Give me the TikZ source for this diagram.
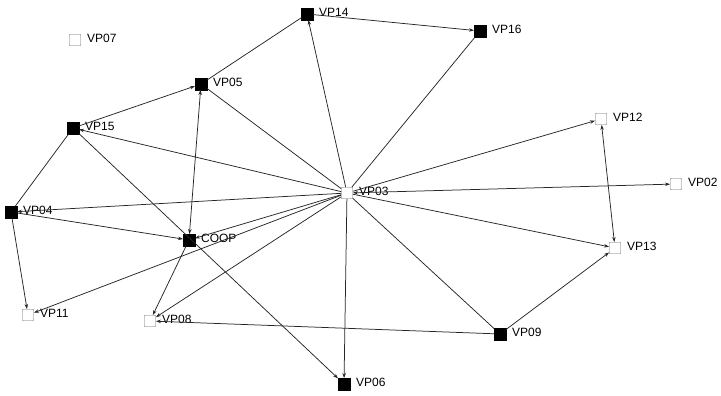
\documentclass[tikz,border=0pt]{standalone}
\usepackage{fontspec}
\setmainfont{Liberation Sans}
\usetikzlibrary{arrows.meta}
\begin{document}
\begin{tikzpicture}[x=1pt,y=-1pt,
  vtx/.style={rectangle,minimum size=11.5pt,inner sep=0pt},
  bk/.style={vtx,fill=black,draw=black},
  wh/.style={vtx,fill=white,draw=black!60,rounded corners=0.8pt},
  lab/.style={label={[font=\fontsize{12pt}{13pt}\selectfont,inner sep=0pt,anchor=west,xshift=6pt,yshift=2pt]east:#1}},
  ed/.style={draw=black!85,line width=0.75pt},
  ar/.style={ed,-{Stealth[length=5pt,width=3.5pt]}},
  br/.style={ed,{Stealth[length=5pt,width=3.5pt]}-{Stealth[length=5pt,width=3.5pt]}}]
\useasboundingbox (0,0) rectangle (721,396);
\node[wh,lab=VP07] (vp07) at (75,40) {};
\node[bk,lab=VP14] (vp14) at (307,14) {};
\node[bk,lab=VP16] (vp16) at (480,31) {};
\node[bk,lab=VP05] (vp05) at (201,84) {};
\node[bk,lab=VP15] (vp15) at (73,128) {};
\node[wh,lab=VP12] (vp12) at (601,119) {};
\node[wh,lab=VP03] (vp03) at (347,193) {};
\node[wh,lab=VP02] (vp02) at (676,184) {};
\node[bk,lab=VP04] (vp04) at (11,212) {};
\node[bk,lab=COOP] (coop) at (189,240) {};
\node[wh,lab=VP13] (vp13) at (615,248) {};
\node[wh,lab=VP11] (vp11) at (28,315) {};
\node[wh,lab=VP08] (vp08) at (150,321) {};
\node[bk,lab=VP09] (vp09) at (500,334) {};
\node[bk,lab=VP06] (vp06) at (344,384) {};
\draw[ar] (vp03) -- (vp14);
\draw[ed] (vp03) -- (vp16);
\draw[ar] (vp14) -- (vp16);
\draw[ed] (vp05) -- (vp14);
\draw[ar] (vp15) -- (vp05);
\draw[br] (coop) -- (vp05);
\draw[ed] (vp05) -- (vp03);
\draw[ar] (vp03) -- (vp15);
\draw[ed] (vp15) -- (vp04);
\draw[ar] (vp15) -- (vp06);
\draw[ar] (vp03) -- (vp04);
\draw[ar] (vp04) -- (coop);
\draw[ar] (vp03) -- (coop);
\draw[ar] (vp04) -- (vp11);
\draw[ar] (vp03) -- (vp11);
\draw[ar] (coop) -- (vp08);
\draw[ar] (vp03) -- (vp08);
\draw[ar] (vp09) -- (vp08);
\draw[ar] (vp03) -- (vp06);
\draw[ed] (vp03) -- (vp09);
\draw[ar] (vp09) -- (vp13);
\draw[ar] (vp03) -- (vp13);
\draw[ar] (vp03) -- (vp12);
\draw[br] (vp12) -- (vp13);
\draw[br] (vp03) -- (vp02);
\end{tikzpicture}
\end{document}
